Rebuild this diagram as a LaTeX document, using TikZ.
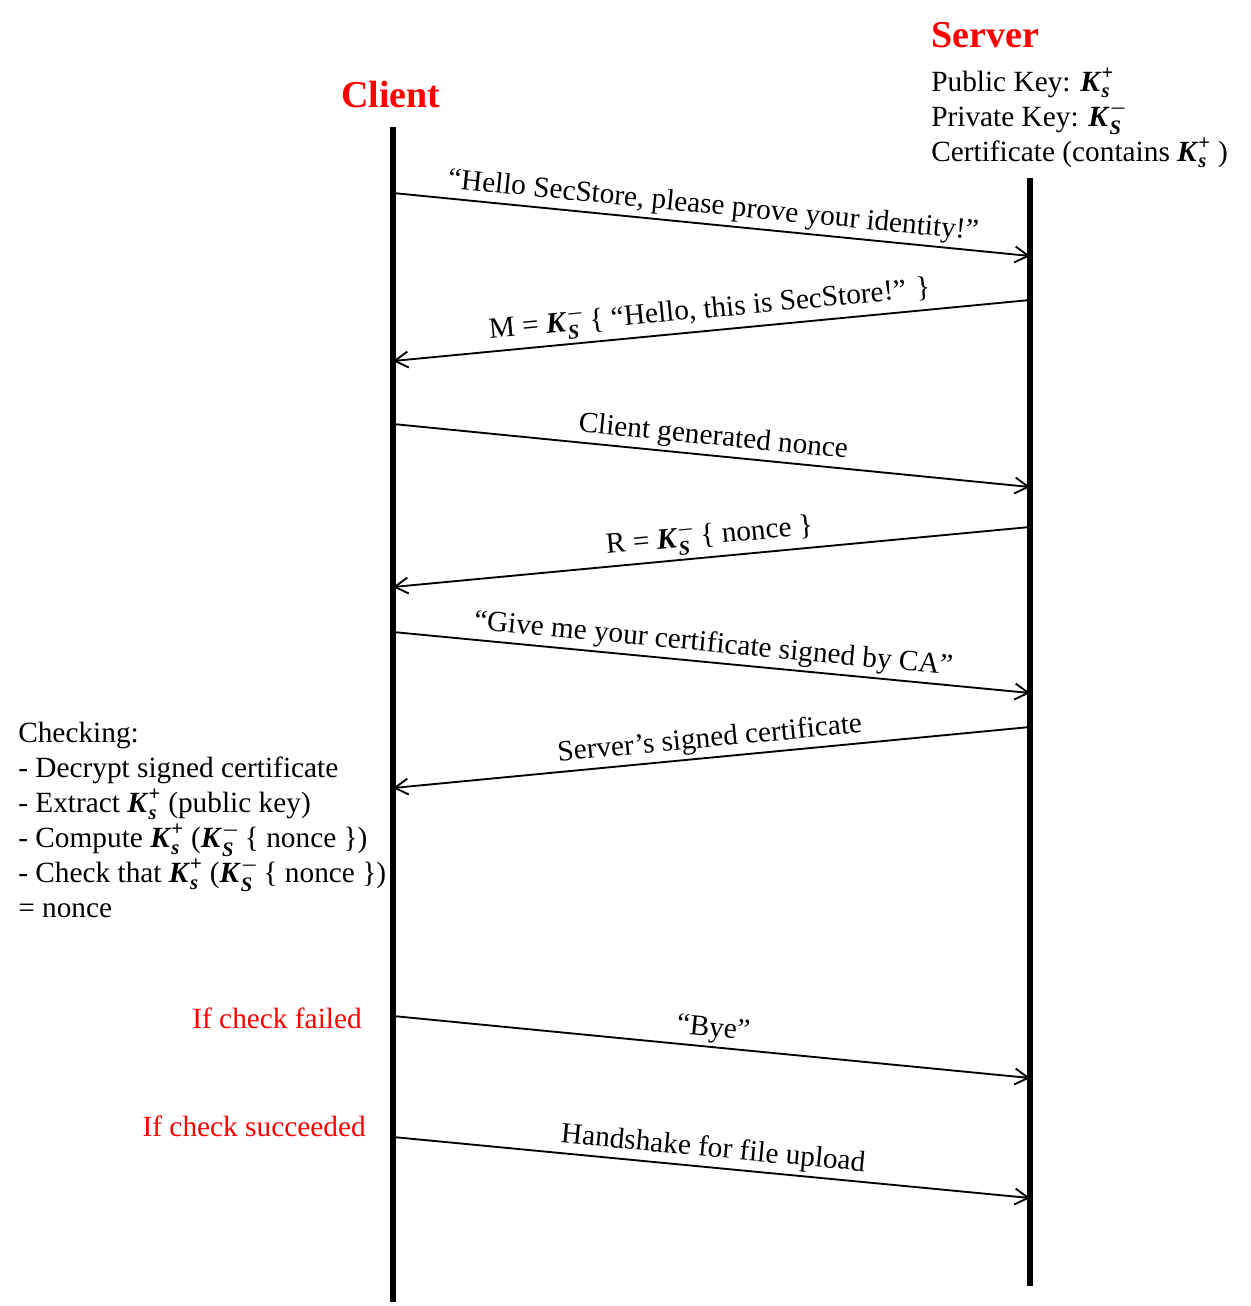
\documentclass[tikz,border=0pt]{standalone}
\usepackage{amsmath}
\usepackage{fontspec}
\setmainfont{Liberation Serif}
\usetikzlibrary{arrows.meta}
\definecolor{hdred}{HTML}{FF0000}
\newcommand{\Kpub}{$\textbf{\textit{K}}^{\textbf{+}}_{\textbf{\textit{s}}}$}
\newcommand{\Kpriv}{$\textbf{\textit{K}}^{\boldsymbol{-}}_{\textbf{\textit{S}}}$}
\tikzset{
  lifeline/.style={line width=3.8pt, line cap=butt},
  msg/.style={line width=1.4pt, -{Straight Barb[length=10pt,width=12pt,line width=1.4pt]}},
  msglabel/.style={sloped, above, inner sep=2.5pt, font=\fontsize{22}{26}\selectfont},
  body/.style={font=\fontsize{22}{26.25}\selectfont, inner sep=0pt},
  head/.style={font=\fontsize{28.5}{34}\selectfont\bfseries, text=hdred, inner sep=0pt},
  cond/.style={font=\fontsize{22}{26.25}\selectfont, text=hdred, inner sep=0pt},
}
\begin{document}
\begin{tikzpicture}[x=0.75pt,y=-0.75pt]
\useasboundingbox (0,0) rectangle (1250,1306);
% headers
\node[head, anchor=base] (client) at (391,108) {Client};
\node[head, anchor=base west] (server) at (931,48) {Server};
\node[body, anchor=base west] (pub) at (931,91) {Public Key: \Kpub};
\node[body, anchor=base west] (priv) at (931,126) {Private Key: \Kpriv};
\node[body, anchor=base west] (cert) at (931,161) {Certificate (contains \Kpub\ )};
% lifelines
\coordinate (ctop) at (393,127);
\coordinate (cbot) at (393,1302);
\coordinate (stop) at (1030,178);
\coordinate (sbot) at (1030,1286);
\draw[lifeline] (ctop) -- (cbot);
\draw[lifeline] (stop) -- (sbot);
% message points
\coordinate (c1) at (393,193);  \coordinate (s1) at (1030,256);
\coordinate (s2) at (1030,300); \coordinate (c2) at (393,361);
\coordinate (c3) at (393,424);  \coordinate (s3) at (1030,487);
\coordinate (s4) at (1030,527); \coordinate (c4) at (393,587);
\coordinate (c5) at (393,632);  \coordinate (s5) at (1030,693);
\coordinate (s6) at (1030,727); \coordinate (c6) at (393,788);
\coordinate (c7) at (393,1016); \coordinate (s7) at (1030,1078);
\coordinate (c8) at (393,1137); \coordinate (s8) at (1030,1198);
% messages
\draw[msg] (c1) -- node[msglabel] {“Hello SecStore, please prove your identity!”} (s1);
\draw[msg] (s2) -- node[msglabel] {M = \Kpriv\,\{ “Hello, this is SecStore!” \}} (c2);
\draw[msg] (c3) -- node[msglabel] {Client generated nonce} (s3);
\draw[msg] (s4) -- node[msglabel] {R = \Kpriv\,\{ nonce \}} (c4);
\draw[msg] (c5) -- node[msglabel] {“Give me your certificate signed by CA”} (s5);
\draw[msg] (s6) -- node[msglabel] {Server’s signed certificate} (c6);
\draw[msg] (c7) -- node[msglabel] {“Bye”} (s7);
\draw[msg] (c8) -- node[msglabel] {Handshake for file upload} (s8);
% checking block
\node[body, anchor=north west, align=left] (check) at (18,722) {Checking:\\
- Decrypt signed certificate\\
- Extract \Kpub\ (public key)\\
- Compute \Kpub\ (\Kpriv\,\{ nonce \})\\
- Check that \Kpub\ (\Kpriv\,\{ nonce \})\\
= nonce};
% conditions
\node[cond, anchor=base east] (fail) at (362,1028) {If check failed};
\node[cond, anchor=base east] (succ) at (366,1136) {If check succeeded};
\end{tikzpicture}
\end{document}
